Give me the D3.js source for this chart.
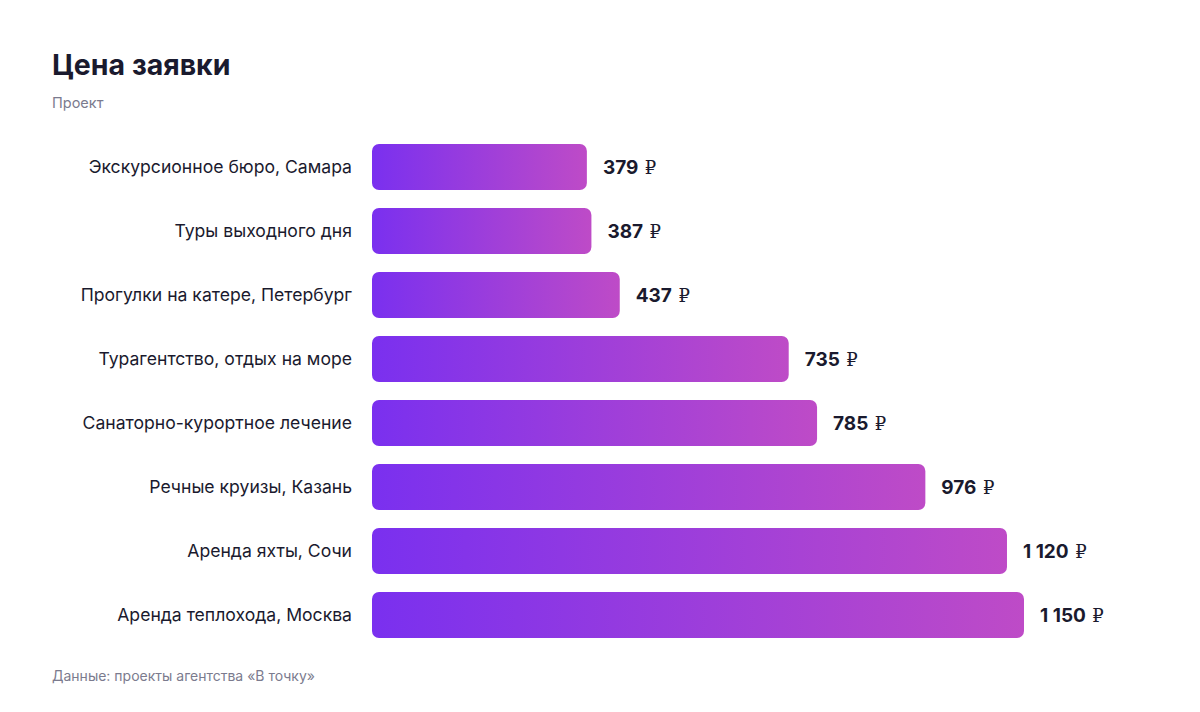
<!DOCTYPE html>
<html><head><meta charset="utf-8">
<script src="https://cdn.jsdelivr.net/npm/d3@7"></script>
<style>
html,body{margin:0;padding:0;background:#fff;}
svg{display:block;font-family:Inter, "Liberation Sans", Arial, sans-serif;}
</style></head>
<body><svg id="c" width="1200" height="712"></svg>
<script>
const categories = ["Экскурсионное бюро, Самара","Туры выходного дня","Прогулки на катере, Петербург","Турагентство, отдых на море","Санаторно-курортное лечение","Речные круизы, Казань","Аренда яхты, Сочи","Аренда теплохода, Москва"];
const values = [379, 387, 437, 735, 785, 976, 1120, 1150];
const title = "Цена заявки";
const subtitle = "Проект";
const source = "Данные: проекты агентства «В точку»";

const svg = d3.select("#c");
const x = d3.scaleLinear().domain([0, 1150]).range([372, 1024]);
const y = d3.scaleBand().domain(categories).range([135, 647]).paddingInner(0.28).paddingOuter(0.14);

const defs = svg.append("defs");
const grad = defs.append("linearGradient").attr("id","g").attr("x1","0").attr("x2","1").attr("y1","0").attr("y2","0");
grad.append("stop").attr("offset","0").attr("stop-color","#7A30EF");
grad.append("stop").attr("offset","1").attr("stop-color","#BE4BC7");

svg.append("text").attr("x",52).attr("y",75).attr("font-size",28.5).attr("font-weight",700).attr("fill","#1a1a2e").text(title);
svg.append("text").attr("x",52).attr("y",108).attr("font-size",14.5).attr("fill","#7b7b8e").text(subtitle);
svg.append("text").attr("x",52).attr("y",681).attr("font-size",14).attr("fill","#7b7b8e").text(source);

const data = categories.map((c,i)=>({c, v: values[i]}));
const fmt = v => d3.format(",")(v).replace(/,/g, "\u00A0");

svg.append("g").selectAll("rect").data(data).join("rect")
  .attr("x", x(0)).attr("y", d=>y(d.c)).attr("width", d=>x(d.v)-x(0)).attr("height", y.bandwidth())
  .attr("rx",7).attr("fill","url(#g)");

svg.append("g").selectAll("text").data(data).join("text")
  .attr("x", 352).attr("y", d=>y(d.c)+y.bandwidth()/2).attr("dy","0.35em")
  .attr("text-anchor","end").attr("font-size",17.6).attr("fill","#1a1a2e").text(d=>d.c);

const vl = svg.append("g").selectAll("text").data(data).join("text")
  .attr("x", d=>x(d.v)+16).attr("y", d=>y(d.c)+y.bandwidth()/2).attr("dy","0.35em")
  .attr("font-size",19).attr("font-weight",700).attr("fill","#1a1a2e");
vl.append("tspan").text(d=>fmt(d.v)+"\u00A0");
vl.append("tspan").attr("dx",2).attr("font-family","DejaVu Serif").attr("font-weight",400).attr("font-size",18).text("₽");
</script></body></html>
